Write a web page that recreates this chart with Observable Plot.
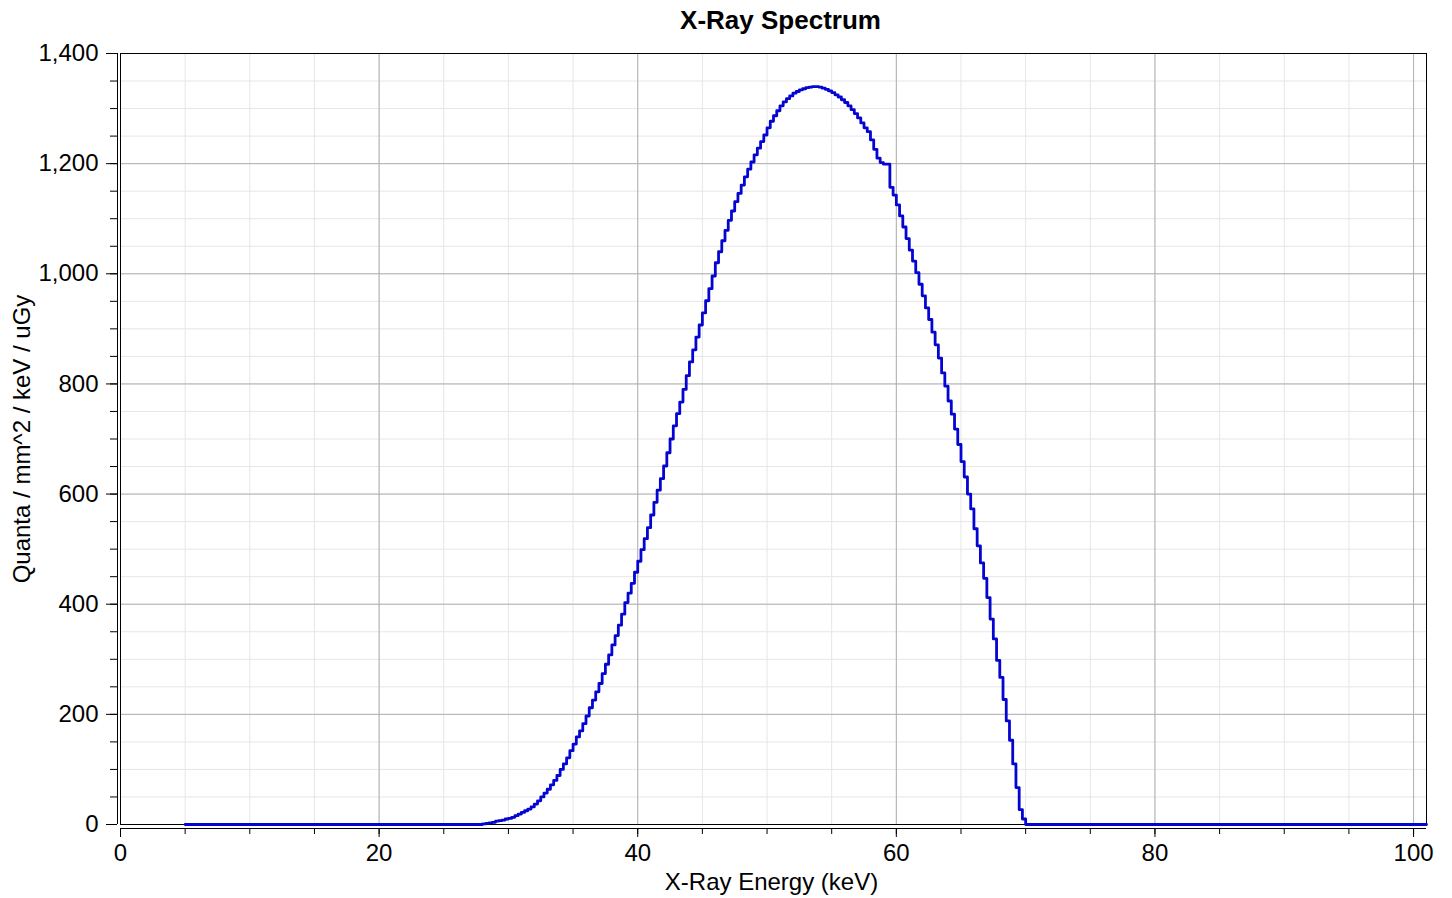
<!DOCTYPE html>
<html><head><meta charset="utf-8">
<script src="https://cdn.jsdelivr.net/npm/d3@7"></script>
<script src="https://cdn.jsdelivr.net/npm/@observablehq/plot@0.6"></script>
<style>body{margin:0;background:#fff} svg{font-family:"Liberation Sans",Arial,sans-serif}</style>
</head><body><div id="chart"></div>
<script>
const title = "X-Ray Spectrum";
const xLabel = "X-Ray Energy (keV)";
const yLabel = "Quanta / mm^2 / keV / uGy";

// 0.25 keV bins, left edges 28.00 .. 69.75
const binStart = 28, binWidth = 0.25;
const quanta = [
  1, 2, 3, 4, 6, 7, 8, 10,
  11, 13, 16, 19, 22, 25, 28, 32,
  37, 43, 50, 57, 64, 72, 80, 89,
  100, 110, 121, 134, 146, 159, 170, 183,
  197, 212, 226, 241, 256, 274, 291, 308,
  326, 343, 362, 382, 403, 420, 438, 458,
  478, 499, 519, 539, 562, 585, 607, 628,
  651, 675, 700, 724, 746, 767, 790, 815,
  840, 862, 885, 907, 929, 951, 973, 996,
  1020, 1040, 1060, 1079, 1097, 1114, 1131, 1146,
  1161, 1176, 1190, 1203, 1216, 1228, 1240, 1252,
  1265, 1277, 1287, 1296, 1305, 1312, 1318, 1323,
  1328, 1331, 1334, 1336, 1338, 1339, 1340, 1340,
  1339, 1337, 1335, 1332, 1329, 1325, 1321, 1316,
  1311, 1305, 1298, 1291, 1283, 1274, 1265, 1258,
  1243, 1226, 1210, 1202, 1199, 1199, 1157, 1143,
  1125, 1105, 1085, 1064, 1043, 1023, 1002, 981,
  960, 938, 917, 894, 871, 847, 820, 796,
  769, 745, 718, 690, 659, 631, 600, 573,
  537, 506, 475, 447, 412, 373, 337, 298,
  267, 227, 188, 153, 110, 67, 27, 10
];
const zeroStart = 5, cutoff = 70, xEnd = 101;

const xMajor = [0, 20, 40, 60, 80, 100];
const xMinor = d3.range(0, 101, 5);
const yMajor = [0, 200, 400, 600, 800, 1000, 1200, 1400];
const yMinor = d3.range(0, 1401, 50);

const spectrum = [{energy: zeroStart, q: 0}]
  .concat(quanta.map((q, i) => ({energy: binStart + i * binWidth, q})))
  .concat([{energy: cutoff, q: 0}, {energy: xEnd, q: 0}]);

const chart = Plot.plot({
  width: 1452, height: 898,
  marginLeft: 120, marginRight: 26, marginTop: 53, marginBottom: 74,
  style: {fontFamily: "Liberation Sans, Arial, sans-serif", fontSize: "24px", background: "#fff", color: "#000"},
  x: {domain: [0, 101], label: null},
  y: {domain: [0, 1400], label: null},
  marks: [
    Plot.gridX(xMinor, {stroke: "#e6e6e6", strokeOpacity: 1}),
    Plot.gridY(yMinor, {stroke: "#e6e6e6", strokeOpacity: 1}),
    Plot.gridX(xMajor, {stroke: "#b0b0b0", strokeOpacity: 1}),
    Plot.gridY(yMajor, {stroke: "#b0b0b0", strokeOpacity: 1}),
    Plot.frame({stroke: "#000"}),
    Plot.line(spectrum, {x: "energy", y: "q", curve: "step-after", stroke: "#0505d2", strokeWidth: 2.8}),
    Plot.ruleX([0], {dx: -3, stroke: "#000"}),
    Plot.axisY(yMinor, {tickSize: 7, text: null, dx: -3}),
    Plot.axisY(yMajor, {tickSize: 11, tickPadding: 8, dx: -3, tickFormat: d3.format(","), fontSize: 24}),
    Plot.ruleY([0], {dy: 4, stroke: "#000"}),
    Plot.axisX(xMinor, {tickSize: 6, text: null, dy: 4}),
    Plot.axisX(xMajor, {tickSize: 9, tickPadding: 6, dy: 4, fontSize: 24}),
    Plot.text([title], {frameAnchor: "top", lineAnchor: "middle", dy: -33, dx: 7, fontWeight: "bold", fontSize: 26}),
    Plot.text([xLabel], {frameAnchor: "bottom", lineAnchor: "middle", dy: 58, dx: -2, fontSize: 24}),
    Plot.text([yLabel], {frameAnchor: "left", textAnchor: "middle", lineAnchor: "middle", dx: -98, rotate: -90, fontSize: 24})
  ]
});
document.getElementById("chart").appendChild(chart);
</script>
</body></html>
